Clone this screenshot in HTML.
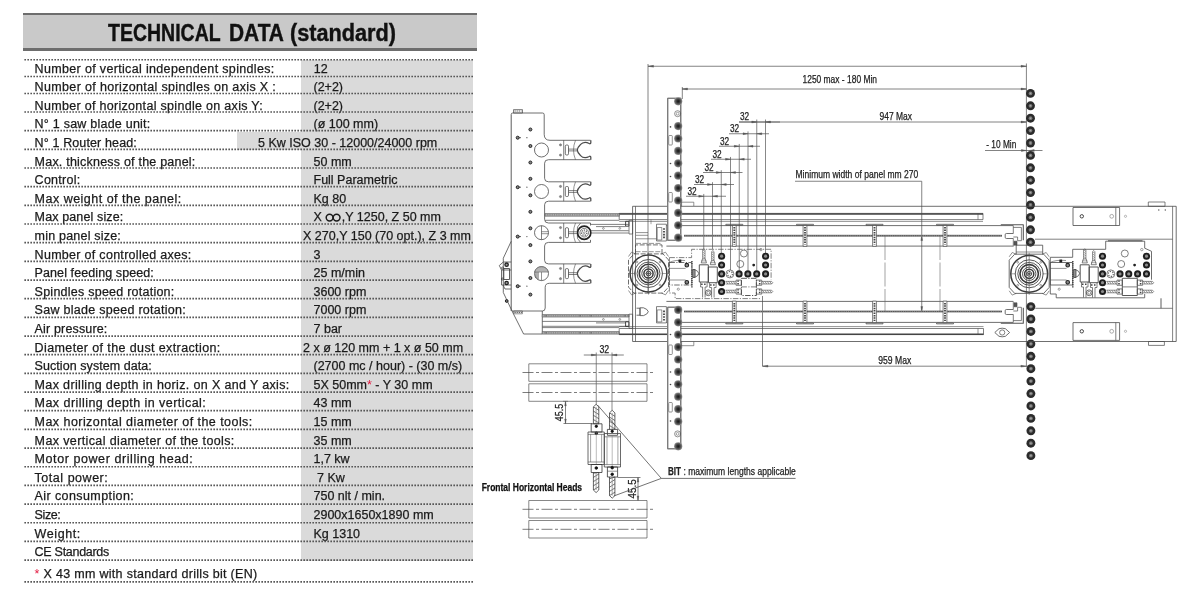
<!DOCTYPE html>
<html><head><meta charset="utf-8"><title>Technical data</title>
<style>
html,body{margin:0;padding:0;background:#fff;}
body{width:1200px;height:600px;position:relative;overflow:hidden;font-family:"Liberation Sans",sans-serif;color:#1a1a1a;}
.hd{position:absolute;left:23px;top:12.5px;width:454px;height:38px;background:#c9c9c9;border-top:2.5px solid #6d6d6d;border-bottom:3px solid #6d6d6d;box-sizing:border-box;}
.ttl{position:absolute;left:108px;top:20.5px;font-size:23px;font-weight:bold;letter-spacing:0;white-space:nowrap;line-height:25px;color:#111;transform-origin:0 0;-webkit-text-stroke:0.4px #111;}
.g{position:absolute;background:#dadada;}
.l,.v{position:absolute;font-size:12.5px;line-height:14px;white-space:nowrap;-webkit-text-stroke:0.25px #1a1a1a;}
.l{left:34.6px;letter-spacing:0.3px;}
.d{position:absolute;left:24.4px;width:448.6px;height:1.6px;background:repeating-linear-gradient(90deg,#585858 0,#585858 1.5px,transparent 1.5px,transparent 3px);}
.red{color:#e3173e;-webkit-text-stroke:0;}
.inf{position:relative;top:0.6px;margin:0 0 0 -0.5px;}
#dr{position:absolute;left:0;top:0;will-change:transform;}
</style></head><body>
<div id="tb" style="position:absolute;left:0;top:0;width:500px;height:600px;will-change:transform">
<div class="hd"></div><div class="ttl" style="left:108.3px;transform:scaleX(0.8475)">TECHNICAL</div><div class="ttl" style="left:228.6px;transform:scaleX(0.909)">DATA</div><div class="ttl" style="left:290.1px;transform:scaleX(0.942)">(standard)</div>
<div class="g" style="left:301px;top:60px;width:172px;height:500.5px"></div>
<div class="g" style="left:237px;top:131.5px;width:70px;height:18px"></div>

<div class="l" style="top:61.60px;letter-spacing:0.338px">Number of vertical independent spindles:</div>
<div class="v" style="left:313.7px;top:61.60px">12</div>
<div class="l" style="top:80.20px;letter-spacing:0.35px">Number of horizontal spindles on axis X :</div>
<div class="v" style="left:313.5px;top:80.20px">(2+2)</div>
<div class="l" style="top:98.81px;letter-spacing:0.306px">Number of horizontal spindle on axis Y:</div>
<div class="v" style="left:313.5px;top:98.81px">(2+2)</div>
<div class="l" style="top:117.41px;letter-spacing:0.231px">N° 1 saw blade unit:</div>
<div class="v" style="left:313.5px;top:117.41px">(ø 100 mm)</div>
<div class="l" style="top:136.02px;letter-spacing:0.125px">N° 1 Router head:</div>
<div class="v" style="left:258px;top:136.02px">5 Kw ISO 30 - 12000/24000 rpm</div>
<div class="l" style="top:154.62px;letter-spacing:0.213px">Max. thickness of the panel:</div>
<div class="v" style="left:313.5px;top:154.62px">50 mm</div>
<div class="l" style="top:173.22px;letter-spacing:0.274px">Control:</div>
<div class="v" style="left:313.5px;top:173.22px">Full Parametric</div>
<div class="l" style="top:191.83px;letter-spacing:0.487px">Max weight of the panel:</div>
<div class="v" style="left:313.5px;top:191.83px">Kg 80</div>
<div class="l" style="top:210.43px;letter-spacing:0.131px">Max panel size:</div>
<div class="v" style="left:313.5px;top:210.43px">X <svg class='inf' width='17' height='9' viewBox='0 0 17 9'><circle cx='4.6' cy='4.6' r='3.4' fill='none' stroke='#1a1a1a' stroke-width='1.5'/><circle cx='11.6' cy='4.6' r='3.4' fill='none' stroke='#1a1a1a' stroke-width='1.5'/></svg>,Y 1250, Z 50 mm</div>
<div class="l" style="top:229.04px;letter-spacing:0.202px">min panel size:</div>
<div class="v" style="left:303px;top:229.04px">X 270,Y 150 (70 opt.), Z 3 mm</div>
<div class="l" style="top:247.64px;letter-spacing:0.292px">Number of controlled axes:</div>
<div class="v" style="left:313.5px;top:247.64px">3</div>
<div class="l" style="top:266.24px;letter-spacing:0.091px">Panel feeding speed:</div>
<div class="v" style="left:313.5px;top:266.24px">25 m/min</div>
<div class="l" style="top:284.85px;letter-spacing:0.242px">Spindles speed rotation:</div>
<div class="v" style="left:313.5px;top:284.85px">3600 rpm</div>
<div class="l" style="top:303.45px;letter-spacing:0.277px">Saw blade speed rotation:</div>
<div class="v" style="left:313.5px;top:303.45px">7000 rpm</div>
<div class="l" style="top:322.06px;letter-spacing:0.153px">Air pressure:</div>
<div class="v" style="left:313.5px;top:322.06px">7 bar</div>
<div class="l" style="top:340.66px;letter-spacing:0.387px">Diameter of the dust extraction:</div>
<div class="v" style="left:303px;top:340.66px">2 x ø 120 mm + 1 x ø 50 mm</div>
<div class="l" style="top:359.26px;letter-spacing:0.062px">Suction system data:</div>
<div class="v" style="left:313.5px;top:359.26px">(2700 mc / hour) - (30 m/s)</div>
<div class="l" style="top:377.87px;letter-spacing:0.351px">Max drilling depth in horiz. on X and Y axis:</div>
<div class="v" style="left:313.5px;top:377.87px">5X 50mm<span class='red'>*</span> - Y 30 mm</div>
<div class="l" style="top:396.47px;letter-spacing:0.449px">Max drilling depth in vertical:</div>
<div class="v" style="left:313.5px;top:396.47px">43 mm</div>
<div class="l" style="top:415.08px;letter-spacing:0.45px">Max horizontal diameter of the tools:</div>
<div class="v" style="left:313.5px;top:415.08px">15 mm</div>
<div class="l" style="top:433.68px;letter-spacing:0.377px">Max vertical diameter of the tools:</div>
<div class="v" style="left:313.5px;top:433.68px">35 mm</div>
<div class="l" style="top:452.28px;letter-spacing:0.575px">Motor power drilling head:</div>
<div class="v" style="left:313.5px;top:452.28px">1,7 kw</div>
<div class="l" style="top:470.89px;letter-spacing:0.527px">Total power:</div>
<div class="v" style="left:317px;top:470.89px">7 Kw</div>
<div class="l" style="top:489.49px;letter-spacing:0.406px">Air consumption:</div>
<div class="v" style="left:313.5px;top:489.49px">750 nlt / min.</div>
<div class="l" style="top:508.10px;letter-spacing:-0.399px">Size:</div>
<div class="v" style="left:313.5px;top:508.10px">2900x1650x1890 mm</div>
<div class="l" style="top:526.70px;letter-spacing:0.591px">Weight:</div>
<div class="v" style="left:313.5px;top:526.70px">Kg 1310</div>
<div class="l" style="top:545.30px;letter-spacing:-0.284px">CE Standards</div>
<div class="l" style="top:566.70px"><span class="red">*</span> X 43 mm with standard drills bit (EN)</div>
<svg style="position:absolute;left:0;top:0" width="500" height="600" viewBox="0 0 500 600"><g stroke="#4f4f4f" stroke-width="1.7" stroke-dasharray="1.55 1.45"><path d="M24.4 59.75H473"/><path d="M24.4 76.50H473"/><path d="M24.4 93.50H473"/><path d="M24.4 112.00H473"/><path d="M24.4 130.67H473"/><path d="M24.4 149.34H473"/><path d="M24.4 168.01H473"/><path d="M24.4 186.68H473"/><path d="M24.4 205.35H473"/><path d="M24.4 224.02H473"/><path d="M24.4 242.69H473"/><path d="M24.4 261.36H473"/><path d="M24.4 280.03H473"/><path d="M24.4 298.70H473"/><path d="M24.4 317.37H473"/><path d="M24.4 336.04H473"/><path d="M24.4 354.71H473"/><path d="M24.4 373.38H473"/><path d="M24.4 392.05H473"/><path d="M24.4 410.72H473"/><path d="M24.4 429.39H473"/><path d="M24.4 448.06H473"/><path d="M24.4 466.73H473"/><path d="M24.4 485.40H473"/><path d="M24.4 504.07H473"/><path d="M24.4 522.74H473"/><path d="M24.4 541.41H473"/><path d="M24.4 560.08H473"/><path d="M24.4 581.90H473"/></g></svg>
</div>
<svg id="dr" width="1200" height="600" viewBox="0 0 1200 600" font-family="Liberation Sans, sans-serif">
<defs>
<radialGradient id="gd"><stop offset="0" stop-color="#151515"/><stop offset="0.35" stop-color="#333"/><stop offset="0.75" stop-color="#666"/><stop offset="1" stop-color="#9a9a9a"/></radialGradient>
<g id="cd"><circle r="4.45" fill="#2b2b2b" stroke="none"/><circle r="1.9" fill="#777" stroke="none"/><circle r="0.8" fill="#aaa" stroke="none"/></g>
<g id="fd"><circle r="4.1" fill="url(#gd)" stroke="none"/></g>
<g id="hd"><circle r="3.55" fill="#1e1e1e" stroke="none"/><circle r="1.6" fill="#8c8c8c" stroke="none"/></g>
</defs>
<g fill="none" stroke="#4a4a4a" stroke-width="0.75" stroke-linecap="butt" stroke-linejoin="round">
<path d="M648.00 66.25L1026.50 66.25" stroke="#5a5a5a"/>
<path d="M648 66.25L653.5 65.35L653.5 67.15Z" fill="#555" stroke="#555" stroke-width="0.4"/>
<path d="M1026.5 66.25L1021.0 65.35L1021.0 67.15Z" fill="#555" stroke="#555" stroke-width="0.4"/>
<path d="M648.00 64.00L648.00 293.00" stroke="#5a5a5a"/>
<path d="M682.00 89.00L1026.50 89.00" stroke="#5a5a5a"/>
<path d="M682 89L687.5 88.1L687.5 89.9Z" fill="#555" stroke="#555" stroke-width="0.4"/>
<path d="M1026.5 89L1021.0 88.1L1021.0 89.9Z" fill="#555" stroke="#555" stroke-width="0.4"/>
<path d="M682.30 87.00L682.30 99.00" stroke="#5a5a5a"/>
<path d="M1026.40 63.50L1026.40 367.00" stroke="#5a5a5a"/>
<text x="802.5" y="83.3" font-size="10.4" text-anchor="start" fill="#222" stroke="#222" stroke-width="0.25" textLength="74.5" lengthAdjust="spacingAndGlyphs">1250 max - 180 Min</text>
<path d="M739.00 122.00L1026.50 122.00" stroke="#5a5a5a"/>
<path d="M1026.5 122L1021.0 121.1L1021.0 122.9Z" fill="#555" stroke="#555" stroke-width="0.4"/>
<text x="879.5" y="119.5" font-size="10.4" text-anchor="start" fill="#222" stroke="#222" stroke-width="0.25" textLength="32.5" lengthAdjust="spacingAndGlyphs">947 Max</text>
<path d="M985.00 150.50L1042.50 150.50" stroke="#5a5a5a"/>
<path d="M1026.4 150.5L1021.4000000000001 149.6L1021.4000000000001 151.4Z" fill="#555" stroke="#555" stroke-width="0.4"/>
<path d="M1029.2 150.5L1034.2 149.6L1034.2 151.4Z" fill="#555" stroke="#555" stroke-width="0.4"/>
<text x="986.3" y="148" font-size="10.4" text-anchor="start" fill="#222" stroke="#222" stroke-width="0.25" textLength="30" lengthAdjust="spacingAndGlyphs">- 10 Min</text>
<text x="795.5" y="177.5" font-size="10.4" text-anchor="start" fill="#222" stroke="#222" stroke-width="0.25" textLength="122.7" lengthAdjust="spacingAndGlyphs">Minimum width of panel mm 270</text>
<path d="M795.00 181.25L921.75 181.25" stroke="#5a5a5a"/>
<path d="M921.75 181.25L921.75 311.50" stroke="#5a5a5a"/>
<path d="M921.75 235.6L920.85 240.6L922.65 240.6Z" fill="#555" stroke="#555" stroke-width="0.4"/>
<path d="M921.75 311.5L920.85 306.5L922.65 306.5Z" fill="#555" stroke="#555" stroke-width="0.4"/>
<path d="M762.50 296.00L762.50 366.20" stroke="#5a5a5a"/>
<path d="M762.50 366.20L1026.40 366.20" stroke="#5a5a5a"/>
<path d="M762.5 366.2L768.0 365.3L768.0 367.09999999999997Z" fill="#555" stroke="#555" stroke-width="0.4"/>
<path d="M1026.4 366.2L1020.9000000000001 365.3L1020.9000000000001 367.09999999999997Z" fill="#555" stroke="#555" stroke-width="0.4"/>
<text x="878.3" y="364" font-size="10.4" text-anchor="start" fill="#222" stroke="#222" stroke-width="0.25" textLength="33" lengthAdjust="spacingAndGlyphs">959 Max</text>
<text x="740" y="119.5" font-size="10.4" text-anchor="start" fill="#222" stroke="#222" stroke-width="0.25" textLength="9.2" lengthAdjust="spacingAndGlyphs">32</text>
<path d="M739.00 122.00L780.00 122.00" stroke="#5a5a5a"/>
<path d="M756.75 122L751.75 121.1L751.75 122.9Z" fill="#555" stroke="#555" stroke-width="0.4"/>
<path d="M765.5 122L770.5 121.1L770.5 122.9Z" fill="#555" stroke="#555" stroke-width="0.4"/>
<text x="730" y="132" font-size="10.4" text-anchor="start" fill="#222" stroke="#222" stroke-width="0.25" textLength="9.2" lengthAdjust="spacingAndGlyphs">32</text>
<path d="M729.00 133.75L769.00 133.75" stroke="#5a5a5a"/>
<path d="M748 133.75L743 132.85L743 134.65Z" fill="#555" stroke="#555" stroke-width="0.4"/>
<path d="M756.75 133.75L761.75 132.85L761.75 134.65Z" fill="#555" stroke="#555" stroke-width="0.4"/>
<text x="720" y="144.5" font-size="10.4" text-anchor="start" fill="#222" stroke="#222" stroke-width="0.25" textLength="9.2" lengthAdjust="spacingAndGlyphs">32</text>
<path d="M719.00 146.25L760.00 146.25" stroke="#5a5a5a"/>
<path d="M739.25 146.25L734.25 145.35L734.25 147.15Z" fill="#555" stroke="#555" stroke-width="0.4"/>
<path d="M748 146.25L753 145.35L753 147.15Z" fill="#555" stroke="#555" stroke-width="0.4"/>
<text x="712.5" y="157.5" font-size="10.4" text-anchor="start" fill="#222" stroke="#222" stroke-width="0.25" textLength="9.2" lengthAdjust="spacingAndGlyphs">32</text>
<path d="M711.00 159.25L751.00 159.25" stroke="#5a5a5a"/>
<path d="M730.5 159.25L725.5 158.35L725.5 160.15Z" fill="#555" stroke="#555" stroke-width="0.4"/>
<path d="M739.25 159.25L744.25 158.35L744.25 160.15Z" fill="#555" stroke="#555" stroke-width="0.4"/>
<text x="704.5" y="170.75" font-size="10.4" text-anchor="start" fill="#222" stroke="#222" stroke-width="0.25" textLength="9.2" lengthAdjust="spacingAndGlyphs">32</text>
<path d="M703.00 172.50L742.50 172.50" stroke="#5a5a5a"/>
<path d="M721.25 172.5L716.25 171.6L716.25 173.4Z" fill="#555" stroke="#555" stroke-width="0.4"/>
<path d="M730.5 172.5L735.5 171.6L735.5 173.4Z" fill="#555" stroke="#555" stroke-width="0.4"/>
<text x="695" y="182.5" font-size="10.4" text-anchor="start" fill="#222" stroke="#222" stroke-width="0.25" textLength="9.2" lengthAdjust="spacingAndGlyphs">32</text>
<path d="M694.00 184.50L734.00 184.50" stroke="#5a5a5a"/>
<path d="M712.5 184.5L707.5 183.6L707.5 185.4Z" fill="#555" stroke="#555" stroke-width="0.4"/>
<path d="M721.25 184.5L726.25 183.6L726.25 185.4Z" fill="#555" stroke="#555" stroke-width="0.4"/>
<text x="687.5" y="194.5" font-size="10.4" text-anchor="start" fill="#222" stroke="#222" stroke-width="0.25" textLength="9.2" lengthAdjust="spacingAndGlyphs">32</text>
<path d="M686.00 196.25L726.00 196.25" stroke="#5a5a5a"/>
<path d="M703.75 196.25L698.75 195.35L698.75 197.15Z" fill="#555" stroke="#555" stroke-width="0.4"/>
<path d="M712.5 196.25L717.5 195.35L717.5 197.15Z" fill="#555" stroke="#555" stroke-width="0.4"/>
<path d="M703.75 193.95L703.75 249.00" stroke-width="0.7" stroke="#555"/>
<path d="M712.50 182.20L712.50 249.00" stroke-width="0.7" stroke="#555"/>
<path d="M721.25 170.20L721.25 253.00" stroke-width="0.7" stroke="#555"/>
<path d="M730.50 156.95L730.50 270.00" stroke-width="0.7" stroke="#555"/>
<path d="M739.25 143.95L739.25 270.50" stroke-width="0.7" stroke="#555"/>
<path d="M748.00 131.45L748.00 270.50" stroke-width="0.7" stroke="#555"/>
<path d="M756.75 119.50L756.75 270.50" stroke-width="0.7" stroke="#555"/>
<path d="M765.50 119.50L765.50 253.00" stroke-width="0.7" stroke="#555"/>
<use href="#cd" x="1030.5" y="93.40"/>
<use href="#cd" x="1030.5" y="105.80"/>
<use href="#cd" x="1030.5" y="118.20"/>
<use href="#cd" x="1030.5" y="130.60"/>
<use href="#cd" x="1030.5" y="143.00"/>
<use href="#cd" x="1030.5" y="155.40"/>
<use href="#cd" x="1030.5" y="167.80"/>
<use href="#cd" x="1030.5" y="180.20"/>
<use href="#cd" x="1030.5" y="192.60"/>
<use href="#cd" x="1030.5" y="205.00"/>
<use href="#cd" x="1030.5" y="217.40"/>
<use href="#cd" x="1030.5" y="229.80"/>
<use href="#cd" x="1030.5" y="242.20"/>
<use href="#cd" x="1030.9" y="306.60"/>
<use href="#cd" x="1030.9" y="319.02"/>
<use href="#cd" x="1030.9" y="331.44"/>
<use href="#cd" x="1030.9" y="343.86"/>
<use href="#cd" x="1030.9" y="356.28"/>
<use href="#cd" x="1030.9" y="368.70"/>
<use href="#cd" x="1030.9" y="381.12"/>
<use href="#cd" x="1030.9" y="393.54"/>
<use href="#cd" x="1030.9" y="405.96"/>
<use href="#cd" x="1030.9" y="418.38"/>
<use href="#cd" x="1030.9" y="430.80"/>
<use href="#cd" x="1030.9" y="443.22"/>
<use href="#cd" x="1030.9" y="455.64"/>
<path d="M632.6 341.5V206.3H1176.2V341.5H632.6" stroke-width="0.8"/>
<path d="M635.50 206.30L635.50 341.50" stroke-width="0.7"/>
<path d="M1172.60 206.30L1172.60 341.50" stroke-width="0.7"/>
<rect x="1148.30" y="202.00" width="16.70" height="4.30" stroke-width="0.7"/>
<rect x="1148.50" y="341.50" width="15.90" height="3.90" stroke-width="0.7"/>
<circle cx="1158.80" cy="210.00" r="0.7" stroke-width="0" fill="#555"/>
<circle cx="1165.30" cy="210.00" r="0.7" stroke-width="0" fill="#555"/>
<path d="M1035.00 239.20L1172.60 239.20" stroke-width="0.7"/>
<path d="M1035.30 308.30L1172.60 308.30" stroke-width="0.7"/>
<path d="M1161.00 298.30L1161.00 308.30" stroke-width="0.9"/>
<rect x="1073.00" y="207.50" width="46.60" height="18.00" stroke-width="0.8"/>
<path d="M1115.80 207.50L1115.80 225.50" stroke-width="0.7"/>
<circle cx="1081.80" cy="216.30" r="1.7" stroke-width="0.9" stroke="#333"/>
<circle cx="1111.70" cy="216.30" r="1.9" stroke-width="0.6" stroke="#777"/>
<circle cx="1125.50" cy="216.30" r="1.1" stroke-width="0.5" stroke="#777"/>
<rect x="1073.00" y="322.60" width="46.60" height="17.80" stroke-width="0.8"/>
<path d="M1115.80 322.60L1115.80 340.40" stroke-width="0.7"/>
<circle cx="1081.80" cy="331.30" r="1.7" stroke-width="0.9" stroke="#333"/>
<circle cx="1111.70" cy="331.30" r="1.9" stroke-width="0.6" stroke="#777"/>
<circle cx="1125.50" cy="331.30" r="1.1" stroke-width="0.5" stroke="#777"/>
<rect x="619.20" y="213.40" width="363.80" height="6.20" stroke-width="0.7"/>
<path d="M619.20 213.90L983.00 213.90" stroke-width="1.5" stroke="#444"/>
<path d="M978.00 213.40L978.00 219.60" stroke-width="0.6"/>
<path d="M619.20 221.40L983.00 221.40" stroke-width="0.6"/>
<rect x="619.20" y="328.50" width="364.30" height="6.10" stroke-width="0.7"/>
<path d="M619.20 334.20L983.50 334.20" stroke-width="1.5" stroke="#444"/>
<path d="M978.00 328.50L978.00 334.60" stroke-width="0.6"/>
<path d="M619.20 326.60L983.50 326.60" stroke-width="0.6"/>
<path d="M994.8 332.5L999 328.7Q1002.2 327.7 1005.4 328.7L1009.6 332.5L1005.4 336.3Q1002.2 337.3 999 336.3Z" stroke-width="0.8"/>
<circle cx="1002.20" cy="332.50" r="2.6" stroke-width="0.7"/>
<path d="M666.4 225.6H1013.3M1013.3 246.1H666.4" stroke-width="0.8"/>
<path d="M684.00 235.70L1002.00 235.70" stroke-width="1.9" stroke="#858585"/>
<path d="M684.00 235.70L1002.00 235.70" stroke-width="0.8" stroke="#4a4a4a" stroke-dasharray="1.3 0.9"/>
<rect x="732.40" y="225.30" width="3.80" height="21.10" stroke-width="0.7" fill="#fff"/>
<path d="M734.30 227.10L734.30 244.60" stroke-width="1.8" stroke="#444" stroke-dasharray="1.5 0.9"/>
<rect x="725.80" y="224.30" width="17.00" height="0.90" stroke-width="0.7" stroke="#4a4a4a"/>
<rect x="803.10" y="225.30" width="3.80" height="21.10" stroke-width="0.7" fill="#fff"/>
<path d="M805.00 227.10L805.00 244.60" stroke-width="1.8" stroke="#444" stroke-dasharray="1.5 0.9"/>
<rect x="796.50" y="224.30" width="17.00" height="0.90" stroke-width="0.7" stroke="#4a4a4a"/>
<rect x="872.60" y="225.30" width="3.80" height="21.10" stroke-width="0.7" fill="#fff"/>
<path d="M874.50 227.10L874.50 244.60" stroke-width="1.8" stroke="#444" stroke-dasharray="1.5 0.9"/>
<rect x="866.00" y="224.30" width="17.00" height="0.90" stroke-width="0.7" stroke="#4a4a4a"/>
<rect x="943.10" y="225.30" width="3.80" height="21.10" stroke-width="0.7" fill="#fff"/>
<path d="M945.00 227.10L945.00 244.60" stroke-width="1.8" stroke="#444" stroke-dasharray="1.5 0.9"/>
<rect x="936.50" y="224.30" width="17.00" height="0.90" stroke-width="0.7" stroke="#4a4a4a"/>
<path d="M1000.8 224.79999999999998H1023.3V240.2" stroke-width="1.1" stroke="#555"/>
<path d="M1013.3 225.6V233.5M1013.3 238.5V246.39999999999998" stroke-width="0.7"/>
<path d="M1013.3 233.5H1006.4Q1005.2 233.5 1005.2 234.7V237.29999999999998Q1005.2 238.5 1006.4 238.5H1013.3" stroke-width="0.8"/>
<path d="M1013.3 227.39999999999998H1021.4V240.7H1017.6V237.0H1013.3" stroke-width="0.7"/>
<path d="M1014 241.2H1017V245.2H1014Z" stroke-width="0.6" fill="#555"/>
<path d="M666.4 301.4H1013.3M1013.3 322.4H666.4" stroke-width="0.8"/>
<path d="M684.00 311.50L1002.00 311.50" stroke-width="1.9" stroke="#858585"/>
<path d="M684.00 311.50L1002.00 311.50" stroke-width="0.8" stroke="#4a4a4a" stroke-dasharray="1.3 0.9"/>
<rect x="732.40" y="301.10" width="3.80" height="21.60" stroke-width="0.7" fill="#fff"/>
<path d="M734.30 302.90L734.30 320.90" stroke-width="1.8" stroke="#444" stroke-dasharray="1.5 0.9"/>
<rect x="725.80" y="323.00" width="17.00" height="0.90" stroke-width="0.7" stroke="#4a4a4a"/>
<rect x="803.10" y="301.10" width="3.80" height="21.60" stroke-width="0.7" fill="#fff"/>
<path d="M805.00 302.90L805.00 320.90" stroke-width="1.8" stroke="#444" stroke-dasharray="1.5 0.9"/>
<rect x="796.50" y="323.00" width="17.00" height="0.90" stroke-width="0.7" stroke="#4a4a4a"/>
<rect x="872.60" y="301.10" width="3.80" height="21.60" stroke-width="0.7" fill="#fff"/>
<path d="M874.50 302.90L874.50 320.90" stroke-width="1.8" stroke="#444" stroke-dasharray="1.5 0.9"/>
<rect x="866.00" y="323.00" width="17.00" height="0.90" stroke-width="0.7" stroke="#4a4a4a"/>
<rect x="943.10" y="301.10" width="3.80" height="21.60" stroke-width="0.7" fill="#fff"/>
<path d="M945.00 302.90L945.00 320.90" stroke-width="1.8" stroke="#444" stroke-dasharray="1.5 0.9"/>
<rect x="936.50" y="323.00" width="17.00" height="0.90" stroke-width="0.7" stroke="#4a4a4a"/>
<path d="M1000.8 323.2H1023.3V307.79999999999995" stroke-width="1.1" stroke="#555"/>
<path d="M1013.3 322.4V314.5M1013.3 309.5V301.6" stroke-width="0.7"/>
<path d="M1013.3 314.5H1006.4Q1005.2 314.5 1005.2 313.29999999999995V310.7Q1005.2 309.5 1006.4 309.5H1013.3" stroke-width="0.8"/>
<path d="M1013.3 320.6H1021.4V307.29999999999995H1017.6V311.0H1013.3" stroke-width="0.7"/>
<path d="M1014 306.79999999999995H1017V302.79999999999995H1014Z" stroke-width="0.6" fill="#555"/>
<path d="M885.00 236.00L885.00 311.00" stroke-width="0.6" stroke="#666" stroke-dasharray="24 2.5"/>
<path d="M940.00 236.00L940.00 311.00" stroke-width="0.6" stroke="#666" stroke-dasharray="24 2.5"/>
<rect x="656.50" y="224.20" width="9.90" height="16.80" stroke-width="0.7"/>
<rect x="657.20" y="227.50" width="4.60" height="12.50" stroke-width="0.6"/>
<path d="M664.00 228.20L664.00 239.00" stroke-width="1.8" stroke="#444" stroke-dasharray="1.6 1.2"/>
<rect x="656.50" y="306.60" width="9.90" height="16.30" stroke-width="0.7"/>
<rect x="657.20" y="309.90" width="4.60" height="12.00" stroke-width="0.6"/>
<path d="M664.00 310.60L664.00 320.90" stroke-width="1.8" stroke="#444" stroke-dasharray="1.6 1.2"/>
<path d="M636.00 232.60L648.00 232.60" stroke-width="0.6"/>
<path d="M636.00 235.30L648.00 235.30" stroke-width="0.6"/>
<path d="M636.00 238.80L656.50 238.80" stroke-width="0.6"/>
<path d="M636.00 243.40L662.00 243.40" stroke-width="0.6" stroke-dasharray="5 1.5"/>
<path d="M651.00 219.60L651.00 224.20" stroke-width="0.5"/>
<path d="M636.5 308.2H640V315.2H636.5M640 307.8H643.5Q647.6 309 648.3 311.7Q647.6 314.4 643.5 315.6H640Z" stroke-width="0.8"/>
<rect x="667.70" y="98.30" width="13.10" height="142.00" fill="#fff"/>
<path d="M680.8 98.3H667.7V240.3H680.8" stroke-width="1.1" stroke="#7a7a7a"/>
<path d="M680.80 98.30L680.80 240.30" stroke-width="0.6"/>
<use href="#fd" x="678.2" y="101.30"/>
<circle cx="677.60" cy="113.70" r="3" stroke-width="0.6"/>
<circle cx="677.60" cy="113.70" r="1.4" stroke-width="0.5"/>
<use href="#fd" x="678.2" y="126.10"/>
<use href="#fd" x="678.2" y="138.50"/>
<use href="#fd" x="678.2" y="150.90"/>
<use href="#fd" x="678.2" y="163.30"/>
<use href="#fd" x="678.2" y="175.70"/>
<use href="#fd" x="678.2" y="188.10"/>
<use href="#fd" x="678.2" y="200.50"/>
<use href="#fd" x="678.2" y="212.90"/>
<use href="#fd" x="678.2" y="225.30"/>
<use href="#fd" x="678.2" y="237.70"/>
<circle cx="670.50" cy="126.90" r="0.8" stroke-width="0" fill="#444"/>
<circle cx="670.50" cy="163.50" r="0.8" stroke-width="0" fill="#444"/>
<circle cx="670.50" cy="176.50" r="0.8" stroke-width="0" fill="#444"/>
<circle cx="670.50" cy="200.00" r="0.8" stroke-width="0" fill="#444"/>
<rect x="668.70" y="135.50" width="3.60" height="9.50" stroke-width="0.6" fill="#fff" rx="0.8"/>
<rect x="668.70" y="192.50" width="3.60" height="9.50" stroke-width="0.6" fill="#fff" rx="0.8"/>
<path d="M681.6 206V202.2H693.8V206" stroke-width="0.6"/>
<rect x="667.70" y="307.20" width="13.10" height="141.60" fill="#fff"/>
<path d="M680.8 307.2H667.7V448.8H680.8" stroke-width="1.1" stroke="#7a7a7a"/>
<path d="M680.80 307.20L680.80 448.80" stroke-width="0.6"/>
<use href="#fd" x="678.2" y="309.90"/>
<use href="#fd" x="678.2" y="322.30"/>
<use href="#fd" x="678.2" y="334.70"/>
<use href="#fd" x="678.2" y="347.10"/>
<use href="#fd" x="678.2" y="359.50"/>
<use href="#fd" x="678.2" y="371.90"/>
<use href="#fd" x="678.2" y="384.30"/>
<use href="#fd" x="678.2" y="396.70"/>
<use href="#fd" x="678.2" y="409.10"/>
<use href="#fd" x="678.2" y="421.50"/>
<circle cx="677.60" cy="433.90" r="3" stroke-width="0.6"/>
<circle cx="677.60" cy="433.90" r="1.4" stroke-width="0.5"/>
<use href="#fd" x="678.2" y="446.30"/>
<circle cx="670.50" cy="334.50" r="0.8" stroke-width="0" fill="#444"/>
<circle cx="670.50" cy="372.00" r="0.8" stroke-width="0" fill="#444"/>
<circle cx="670.50" cy="384.50" r="0.8" stroke-width="0" fill="#444"/>
<circle cx="670.50" cy="421.00" r="0.8" stroke-width="0" fill="#444"/>
<rect x="668.70" y="345.00" width="3.60" height="9.50" stroke-width="0.6" fill="#fff" rx="0.8"/>
<rect x="668.70" y="402.50" width="3.60" height="9.50" stroke-width="0.6" fill="#fff" rx="0.8"/>
<path d="M681.6 341.6V345.7H693.8V341.6" stroke-width="0.6"/>
<path d="M511.2 114.5Q511.2 113 512.7 113H542.5Q544.2 113 544.2 114.7V134.3Q544.2 140.3 550 140.3H590.5" stroke-width="0.8"/>
<path d="M590.5 159.7H548.5Q544.6 159.7 544.6 163.2V178.3Q544.6 181.8 548.5 181.8H590.5" stroke-width="0.8"/>
<path d="M563.70 140.30L563.70 159.70" stroke-width="0.7"/>
<circle cx="560.50" cy="144.90" r="1.1" stroke-width="0.5" stroke="#666" fill="#888"/>
<circle cx="560.50" cy="155.10" r="1.1" stroke-width="0.5" stroke="#666" fill="#888"/>
<rect x="565.30" y="145.00" width="3.20" height="10.00" stroke-width="0.8" rx="1.2"/>
<path d="M568.5 149.1H577.5M568.5 150.9H577.5" stroke-width="0.7"/>
<path d="M590.8 140.3V143.1Q590.3 144.2 589.2 143.5C586 141.7 582.5 142.3 580.3 144.7Q577.4 147.5 577.3 150Q577.4 152.5 580.3 155.3C582.5 157.7 586 158.3 589.2 156.5Q590.3 155.8 590.8 156.9V159.7" stroke-width="1.25" stroke="#4a4a4a"/>
<path d="M575.5 140.3Q571.5 150 575.5 159.7" stroke-width="0.6"/>
<circle cx="541.50" cy="150.00" r="7" stroke-width="0.8"/>
<path d="M590.5 201.2H548.5Q544.6 201.2 544.6 204.7V219.5Q544.6 223.0 548.5 223.0H590.5" stroke-width="0.8"/>
<path d="M563.70 181.80L563.70 201.20" stroke-width="0.7"/>
<circle cx="560.50" cy="186.40" r="1.1" stroke-width="0.5" stroke="#666" fill="#888"/>
<circle cx="560.50" cy="196.60" r="1.1" stroke-width="0.5" stroke="#666" fill="#888"/>
<rect x="565.30" y="186.50" width="3.20" height="10.00" stroke-width="0.8" rx="1.2"/>
<path d="M568.5 190.6H577.5M568.5 192.4H577.5" stroke-width="0.7"/>
<path d="M590.8 181.8V184.6Q590.3 185.7 589.2 185.0C586 183.2 582.5 183.8 580.3 186.2Q577.4 189.0 577.3 191.5Q577.4 194.0 580.3 196.8C582.5 199.2 586 199.8 589.2 198.0Q590.3 197.3 590.8 198.4V201.2" stroke-width="1.25" stroke="#4a4a4a"/>
<path d="M575.5 181.8Q571.5 191.5 575.5 201.2" stroke-width="0.6"/>
<circle cx="541.50" cy="191.50" r="7" stroke-width="0.8"/>
<path d="M590.5 242.39999999999998H548.5Q544.6 242.39999999999998 544.6 245.89999999999998V260.40000000000003Q544.6 263.90000000000003 548.5 263.90000000000003H590.5" stroke-width="0.8"/>
<path d="M563.70 223.00L563.70 242.40" stroke-width="0.7"/>
<circle cx="560.50" cy="227.60" r="1.1" stroke-width="0.5" stroke="#666" fill="#888"/>
<circle cx="560.50" cy="237.80" r="1.1" stroke-width="0.5" stroke="#666" fill="#888"/>
<rect x="565.30" y="227.70" width="3.20" height="10.00" stroke-width="0.8" rx="1.2"/>
<path d="M568.5 231.79999999999998H577.5M568.5 233.6H577.5" stroke-width="0.7"/>
<path d="M580.6 223.0Q576 226.7 577.3 231.7M580.6 242.39999999999998Q576 238.7 577.3 233.7" stroke-width="0.7"/>
<path d="M590.5 223.0V225.5M590.5 242.39999999999998V239.89999999999998" stroke-width="0.8"/>
<path d="M575.5 223.0Q571.5 232.7 575.5 242.39999999999998" stroke-width="0.6"/>
<circle cx="584.20" cy="232.70" r="6.6" stroke-width="1.7" stroke="#222" fill="#fff"/>
<circle cx="584.20" cy="232.70" r="4.3" stroke-width="0.7"/>
<circle cx="584.20" cy="232.70" r="2.6" stroke-width="1.3" stroke="#555" stroke-dasharray="1.2 1.1"/>
<circle cx="584.20" cy="232.70" r="0.9" stroke-width="0.5"/>
<circle cx="541.50" cy="232.70" r="7" stroke-width="0.8"/>
<path d="M590.5 283.3H549.5Q545.2 283.3 545.2 287.3V308Q545.2 311 542.3 311H512" stroke-width="0.8"/>
<path d="M563.70 263.90L563.70 283.30" stroke-width="0.7"/>
<circle cx="560.50" cy="268.50" r="1.1" stroke-width="0.5" stroke="#666" fill="#888"/>
<circle cx="560.50" cy="278.70" r="1.1" stroke-width="0.5" stroke="#666" fill="#888"/>
<rect x="565.30" y="268.60" width="3.20" height="10.00" stroke-width="0.8" rx="1.2"/>
<path d="M568.5 272.70000000000005H577.5M568.5 274.5H577.5" stroke-width="0.7"/>
<path d="M590.8 263.90000000000003V266.70000000000005Q590.3 267.8 589.2 267.1C586 265.3 582.5 265.90000000000003 580.3 268.3Q577.4 271.1 577.3 273.6Q577.4 276.1 580.3 278.90000000000003C582.5 281.3 586 281.90000000000003 589.2 280.1Q590.3 279.40000000000003 590.8 280.5V283.3" stroke-width="1.25" stroke="#4a4a4a"/>
<path d="M575.5 263.90000000000003Q571.5 273.6 575.5 283.3" stroke-width="0.6"/>
<circle cx="541.50" cy="273.60" r="7" stroke-width="0.8"/>
<path d="M541.50 225.70L541.50 239.70" stroke-width="0.7"/>
<path d="M541.5 231.7H548.4M541.5 233.7H548.4" stroke-width="0.6"/>
<path d="M534.7 272.1A7 7 0 0 1 548.3 272.1Z" stroke-width="0.5" fill="#b5b5b5"/>
<path d="M536 272.1V278.1M538 272.1V279.6" stroke-width="0.8" stroke="#333"/>
<path d="M541.5 272.1V280.6" stroke-width="0.6"/>
<path d="M511.2 114.5V311" stroke-width="0.9"/>
<rect x="513.50" y="109.60" width="9.00" height="3.40" stroke-width="0.7"/>
<path d="M514.5 111H521.5" stroke-width="1.2" stroke="#555" stroke-dasharray="1.2 0.9"/>
<circle cx="530.40" cy="129.50" r="1.5" stroke-width="1.0" stroke="#222" fill="#888"/>
<circle cx="530.40" cy="146.00" r="1.5" stroke-width="1.0" stroke="#222" fill="#888"/>
<circle cx="530.40" cy="162.50" r="1.5" stroke-width="1.0" stroke="#222" fill="#888"/>
<circle cx="530.40" cy="178.80" r="1.5" stroke-width="1.0" stroke="#222" fill="#888"/>
<circle cx="530.40" cy="195.30" r="1.5" stroke-width="1.0" stroke="#222" fill="#888"/>
<circle cx="530.40" cy="211.80" r="1.5" stroke-width="1.0" stroke="#222" fill="#888"/>
<circle cx="530.40" cy="228.30" r="1.5" stroke-width="1.0" stroke="#222" fill="#888"/>
<circle cx="530.40" cy="245.10" r="1.5" stroke-width="1.0" stroke="#222" fill="#888"/>
<circle cx="530.40" cy="261.40" r="1.5" stroke-width="1.0" stroke="#222" fill="#888"/>
<circle cx="530.40" cy="278.00" r="1.5" stroke-width="1.0" stroke="#222" fill="#888"/>
<circle cx="530.40" cy="294.60" r="1.5" stroke-width="1.0" stroke="#222" fill="#888"/>
<circle cx="517.70" cy="137.70" r="1.5" stroke-width="1.0" stroke="#222" fill="#888"/>
<path d="M519.00 137.70L521.00 137.70" stroke-width="0.8" stroke="#333"/>
<circle cx="526.90" cy="137.70" r="0.6" stroke-width="0" fill="#444"/>
<circle cx="517.70" cy="187.20" r="1.5" stroke-width="1.0" stroke="#222" fill="#888"/>
<path d="M519.00 187.20L521.00 187.20" stroke-width="0.8" stroke="#333"/>
<circle cx="526.90" cy="187.20" r="0.6" stroke-width="0" fill="#444"/>
<circle cx="517.70" cy="236.60" r="1.5" stroke-width="1.0" stroke="#222" fill="#888"/>
<path d="M519.00 236.60L521.00 236.60" stroke-width="0.8" stroke="#333"/>
<circle cx="526.90" cy="236.60" r="0.6" stroke-width="0" fill="#444"/>
<circle cx="517.70" cy="286.20" r="1.5" stroke-width="1.0" stroke="#222" fill="#888"/>
<path d="M519.00 286.20L521.00 286.20" stroke-width="0.8" stroke="#333"/>
<circle cx="526.90" cy="286.20" r="0.6" stroke-width="0" fill="#444"/>
<path d="M511.2 241.3L503.3 258.2V292.5L512 311" stroke-width="0.8"/>
<path d="M503.3 262L499.3 265.5L501.5 270V285H511.2M503.3 262H511.2M501.5 270H511.2M503 285L505 289H511.2" stroke-width="0.8"/>
<circle cx="506.60" cy="264.70" r="1.7" stroke-width="1.3" stroke="#222" fill="#999"/>
<circle cx="506.60" cy="283.00" r="1.7" stroke-width="1.3" stroke="#222" fill="#999"/>
<circle cx="506.70" cy="301.00" r="1.4" stroke-width="1.0" stroke="#222" fill="#777"/>
<rect x="503.80" y="268.50" width="5.70" height="11.00" stroke-width="0.8" stroke="#333"/>
<circle cx="502.50" cy="268.00" r="1.0" stroke-width="0.7" stroke="#333"/>
<circle cx="502.30" cy="279.00" r="1.0" stroke-width="0.7" stroke="#333"/>
<path d="M512 311L523.6 334H542.3V311" stroke-width="0.8"/>
<rect x="513.70" y="311.00" width="8.70" height="2.80" stroke-width="0.6"/>
<path d="M514.5 312.5H521.8" stroke-width="1.1" stroke="#555" stroke-dasharray="1.2 0.9"/>
<rect x="545.00" y="213.60" width="74.20" height="2.60" stroke-width="0.6" fill="#bdbdbd"/>
<path d="M545.00 214.90L619.20 214.90" stroke-width="1.8199999999999958" stroke="#8a8a8a" stroke-dasharray="1 0.8"/>
<path d="M545 220.3H619.2" stroke-width="0.7"/>
<path d="M590.8 224.4H628.7M596 226.6H625.6M590.8 230.7H628.7M590.8 233H628.7" stroke-width="0.7"/>
<rect x="625.60" y="221.30" width="3.30" height="4.90" stroke-width="0.9" stroke="#333"/>
<circle cx="603.40" cy="228.40" r="0.9" stroke-width="0.5"/>
<circle cx="619.80" cy="228.40" r="0.9" stroke-width="0.5"/>
<rect x="629.00" y="220.30" width="3.60" height="13.70" stroke-width="0.7"/>
<rect x="542.30" y="314.60" width="86.70" height="2.40" stroke-width="0.6" fill="#bdbdbd"/>
<path d="M542.30 315.80L629.00 315.80" stroke-width="1.679999999999984" stroke="#8a8a8a" stroke-dasharray="1 0.8"/>
<circle cx="546.00" cy="315.80" r="0.6" stroke-width="0" fill="#444"/>
<circle cx="580.00" cy="315.80" r="0.6" stroke-width="0" fill="#444"/>
<circle cx="591.00" cy="315.80" r="0.6" stroke-width="0" fill="#444"/>
<circle cx="625.00" cy="315.80" r="0.6" stroke-width="0" fill="#444"/>
<path d="M542.3 321.4H629M596 322.9H625.6M542.3 326.3H629M542.3 327.6H619.2" stroke-width="0.7"/>
<rect x="542.30" y="331.60" width="76.90" height="2.50" stroke-width="0.6" fill="#bdbdbd"/>
<path d="M542.30 332.85L619.20 332.85" stroke-width="1.75" stroke="#8a8a8a" stroke-dasharray="1 0.8"/>
<circle cx="546.00" cy="332.80" r="0.6" stroke-width="0" fill="#444"/>
<circle cx="580.00" cy="332.80" r="0.6" stroke-width="0" fill="#444"/>
<circle cx="591.00" cy="332.80" r="0.6" stroke-width="0" fill="#444"/>
<rect x="625.60" y="321.80" width="3.30" height="4.60" stroke-width="0.9" stroke="#333"/>
<circle cx="603.40" cy="319.40" r="0.9" stroke-width="0.5"/>
<circle cx="619.80" cy="319.40" r="0.9" stroke-width="0.5"/>
<rect x="629.00" y="314.20" width="3.60" height="14.10" stroke-width="0.7"/>
<rect x="528.80" y="363.80" width="118.20" height="17.50" stroke-width="0.7" stroke="#555"/>
<path d="M522.50 372.50L653.80 372.50" stroke-width="0.7" stroke="#444" stroke-dasharray="11 2.5 3 2.5"/>
<rect x="528.80" y="383.80" width="118.20" height="17.50" stroke-width="0.7" stroke="#555"/>
<path d="M522.50 392.50L653.80 392.50" stroke-width="0.7" stroke="#444" stroke-dasharray="11 2.5 3 2.5"/>
<rect x="528.80" y="500.50" width="118.20" height="17.50" stroke-width="0.7" stroke="#555"/>
<path d="M522.50 509.30L653.80 509.30" stroke-width="0.7" stroke="#444" stroke-dasharray="11 2.5 3 2.5"/>
<rect x="528.80" y="520.50" width="118.20" height="17.50" stroke-width="0.7" stroke="#555"/>
<path d="M522.50 529.30L653.80 529.30" stroke-width="0.7" stroke="#444" stroke-dasharray="11 2.5 3 2.5"/>
<text x="599.4" y="353.2" font-size="10.4" text-anchor="start" fill="#222" stroke="#222" stroke-width="0.25" textLength="9.8" lengthAdjust="spacingAndGlyphs">32</text>
<path d="M583.80 355.00L623.80 355.00" stroke="#5a5a5a"/>
<path d="M596.25 355L591.25 354.1L591.25 355.9Z" fill="#555" stroke="#555" stroke-width="0.4"/>
<path d="M612 355L617 354.1L617 355.9Z" fill="#555" stroke="#555" stroke-width="0.4"/>
<path d="M596.25 352.50L596.25 404.50" stroke-width="0.7" stroke="#5a5a5a"/>
<path d="M612.00 352.50L612.00 410.50" stroke-width="0.7" stroke="#5a5a5a"/>
<path d="M565.50 401.30L565.50 423.50" stroke="#5a5a5a"/>
<path d="M563.00 401.30L568.00 401.30" stroke-width="0.6" stroke="#5a5a5a"/>
<path d="M563.50 423.50L592.00 423.50" stroke="#5a5a5a"/>
<path d="M565.5 401.3L564.7 405.8L566.3 405.8Z" fill="#555" stroke="#555" stroke-width="0.4"/>
<path d="M565.5 423.5L564.7 419.0L566.3 419.0Z" fill="#555" stroke="#555" stroke-width="0.4"/>
<text x="563.2" y="421.2" font-size="10.8" text-anchor="start" fill="#222" stroke="#222" stroke-width="0.25" textLength="17.5" lengthAdjust="spacingAndGlyphs" transform="rotate(-90 563.2 421.2)">45.5</text>
<path d="M638.00 477.50L638.00 500.50" stroke="#5a5a5a"/>
<path d="M617.50 477.50L640.50 477.50" stroke="#5a5a5a"/>
<path d="M638 477.5L637.2 482.0L638.8 482.0Z" fill="#555" stroke="#555" stroke-width="0.4"/>
<path d="M638 500.5L637.2 496.0L638.8 496.0Z" fill="#555" stroke="#555" stroke-width="0.4"/>
<text x="635.9" y="498.4" font-size="10.8" text-anchor="start" fill="#222" stroke="#222" stroke-width="0.25" textLength="19.2" lengthAdjust="spacingAndGlyphs" transform="rotate(-90 635.9 498.4)">45.5</text>
<path d="M593.4 406.90000000000003L596.1 404.3L598.8000000000001 406.90000000000003V423.8M593.4 406.90000000000003V423.8" stroke-width="0.75" stroke="#333"/>
<path d="M593.4 406.90L598.8000000000001 410.30M593.4 411.10L598.8000000000001 414.50M593.4 415.30L598.8000000000001 418.70M593.4 419.50L598.8000000000001 422.90M593.4 423.70L598.8000000000001 423.80" stroke-width="0.7" stroke="#333"/>
<path d="M596.10 406.90L596.10 423.80" stroke-width="0.9" stroke="#999"/>
<path d="M593.4 490.0L596.1 492.6L598.8000000000001 490.0V472.5M593.4 490.0V472.5" stroke-width="0.75" stroke="#333"/>
<path d="M593.4 490.00L598.8000000000001 486.60M593.4 485.80L598.8000000000001 482.40M593.4 481.60L598.8000000000001 478.20M593.4 477.40L598.8000000000001 474.00M593.4 473.20L598.8000000000001 472.50" stroke-width="0.7" stroke="#333"/>
<path d="M596.10 490.00L596.10 472.50" stroke-width="0.9" stroke="#999"/>
<path d="M609.5 412.90000000000003L612.2 410.3L614.9000000000001 412.90000000000003V429.4M609.5 412.90000000000003V429.4" stroke-width="0.75" stroke="#333"/>
<path d="M609.5 412.90L614.9000000000001 416.30M609.5 417.10L614.9000000000001 420.50M609.5 421.30L614.9000000000001 424.70M609.5 425.50L614.9000000000001 428.90" stroke-width="0.7" stroke="#333"/>
<path d="M612.20 412.90L612.20 429.40" stroke-width="0.9" stroke="#999"/>
<path d="M609.5 495.59999999999997L612.2 498.2L614.9000000000001 495.59999999999997V477M609.5 495.59999999999997V477" stroke-width="0.75" stroke="#333"/>
<path d="M609.5 495.60L614.9000000000001 492.20M609.5 491.40L614.9000000000001 488.00M609.5 487.20L614.9000000000001 483.80M609.5 483.00L614.9000000000001 479.60M609.5 478.80L614.9000000000001 477.00" stroke-width="0.7" stroke="#333"/>
<path d="M612.20 495.60L612.20 477.00" stroke-width="0.9" stroke="#999"/>
<rect x="591.20" y="423.80" width="10.80" height="8.20" stroke-width="0.8" stroke="#333"/>
<circle cx="596.30" cy="426.30" r="1.2" stroke-width="0.8" stroke="#111" fill="#111"/>
<circle cx="596.30" cy="433.20" r="1.3" stroke-width="0.8" stroke="#111" fill="#111"/>
<rect x="588.00" y="432.00" width="16.30" height="32.50" stroke-width="0.8" stroke="#444"/>
<path d="M590.60 434.40L590.60 462.00" stroke-width="0.5"/>
<path d="M601.60 434.40L601.60 462.00" stroke-width="0.5"/>
<path d="M588.00 434.40L604.30 434.40" stroke-width="0.6"/>
<path d="M588.00 462.00L604.30 462.00" stroke-width="0.6"/>
<path d="M596.30 432.00L596.30 464.50" stroke-width="0.5" stroke="#777"/>
<rect x="591.20" y="464.50" width="10.80" height="8.00" stroke-width="0.8" stroke="#333"/>
<circle cx="596.30" cy="468.00" r="1.3" stroke-width="0.8" stroke="#111" fill="#111"/>
<rect x="607.40" y="429.40" width="10.20" height="5.90" stroke-width="0.8" stroke="#333"/>
<circle cx="612.20" cy="431.30" r="1.2" stroke-width="0.8" stroke="#111" fill="#111"/>
<rect x="604.30" y="433.50" width="16.20" height="33.50" stroke-width="0.8" stroke="#444"/>
<path d="M607.00 436.80L607.00 464.60" stroke-width="0.5"/>
<path d="M617.90 436.80L617.90 464.60" stroke-width="0.5"/>
<path d="M604.30 436.80L620.50 436.80" stroke-width="0.6"/>
<path d="M604.30 464.60L620.50 464.60" stroke-width="0.6"/>
<path d="M612.20 435.00L612.20 467.00" stroke-width="0.5" stroke="#777"/>
<rect x="607.40" y="467.00" width="10.20" height="10.00" stroke-width="0.8" stroke="#333"/>
<circle cx="612.20" cy="467.70" r="1.3" stroke-width="0.8" stroke="#111" fill="#111"/>
<circle cx="612.20" cy="474.30" r="1.3" stroke-width="0.8" stroke="#111" fill="#111"/>
<path d="M607.40 471.20L617.60 471.20" stroke-width="0.6"/>
<path d="M597.5 405L661.3 478.4H795.6M661.3 478.4L613.8 496" stroke-width="0.75" stroke="#444"/>
<text x="668" y="475.2" font-size="10.2" text-anchor="start" fill="#222" stroke="#222" stroke-width="0.25" textLength="13" lengthAdjust="spacingAndGlyphs" font-weight="bold">BIT</text>
<text x="683.5" y="475.2" font-size="10.2" text-anchor="start" fill="#222" stroke="#222" stroke-width="0.25" textLength="112.3" lengthAdjust="spacingAndGlyphs">: maximum lengths applicable</text>
<text x="481.7" y="490.7" font-size="10" text-anchor="start" fill="#111" stroke="#111" stroke-width="0.25" textLength="100.4" lengthAdjust="spacingAndGlyphs" font-weight="bold">Frontal Horizontal Heads</text>
<path d="M634.0 253.9H663.0L668.5 259.9V287.1L663.0 293.1H634.0L628.5 287.1V259.9Z" stroke-width="0.8" stroke-dasharray="5 1.6"/>
<circle cx="648.50" cy="273.50" r="18.4" stroke-width="1.5" stroke="#3a3a3a"/>
<circle cx="648.50" cy="273.50" r="14.0" stroke-width="0.9" stroke="#444"/>
<circle cx="648.50" cy="273.50" r="11.4" stroke-width="0.9" stroke="#444"/>
<circle cx="648.50" cy="273.50" r="9.2" stroke-width="1.6" stroke="#383838"/>
<circle cx="648.50" cy="273.50" r="6.7" stroke-width="0.9" stroke="#444"/>
<circle cx="648.50" cy="273.50" r="4.6" stroke-width="1.5" stroke="#383838"/>
<circle cx="648.50" cy="273.50" r="2.4" stroke-width="0.9" stroke="#333"/>
<circle cx="648.50" cy="273.50" r="1.2" stroke-width="0" fill="#555"/>
<path d="M645.50 273.50L651.50 273.50" stroke-width="0.6"/>
<path d="M648.50 252.50L648.50 294.50" stroke-width="0.6" stroke="#555"/>
<path d="M629.50 273.50L635.50 273.50" stroke-width="0.5"/>
<path d="M661.50 273.50L667.50 273.50" stroke-width="0.5"/>
<circle cx="660.03" cy="285.03" r="0.9" stroke-width="0.5"/>
<circle cx="636.97" cy="285.03" r="0.9" stroke-width="0.5"/>
<circle cx="636.97" cy="261.97" r="0.9" stroke-width="0.5"/>
<circle cx="660.03" cy="261.97" r="0.9" stroke-width="0.5"/>
<path d="M635.5 253.9L631.5 252.2L628.5 256.5" stroke-width="0.6"/>
<path d="M635.5 293.1L631.5 294.8L628.5 290.5" stroke-width="0.6"/>
<path d="M661.5 253.9L665.5 252.2L668.5 256.5" stroke-width="0.6"/>
<path d="M661.5 293.1L665.5 294.8L668.5 290.5" stroke-width="0.6"/>
<path d="M635.5 253.9V244.9H662.0V253.9" stroke-width="0.8" stroke-dasharray="5 1.6"/>
<path d="M635.50 251.70L662.00 251.70" stroke-width="0.6" stroke-dasharray="5 1.6"/>
<path d="M1014.7 254.20000000000002H1043.7L1049.2 260.20000000000005V287.40000000000003L1043.7 293.40000000000003H1014.7L1009.2 287.40000000000003V260.20000000000005Z" stroke-width="0.8"/>
<circle cx="1029.20" cy="273.80" r="18.4" stroke-width="1.5" stroke="#3a3a3a"/>
<circle cx="1029.20" cy="273.80" r="14.0" stroke-width="0.9" stroke="#444"/>
<circle cx="1029.20" cy="273.80" r="11.4" stroke-width="0.9" stroke="#444"/>
<circle cx="1029.20" cy="273.80" r="9.2" stroke-width="1.6" stroke="#383838"/>
<circle cx="1029.20" cy="273.80" r="6.7" stroke-width="0.9" stroke="#444"/>
<circle cx="1029.20" cy="273.80" r="4.6" stroke-width="1.5" stroke="#383838"/>
<circle cx="1029.20" cy="273.80" r="2.4" stroke-width="0.9" stroke="#333"/>
<circle cx="1029.20" cy="273.80" r="1.2" stroke-width="0" fill="#555"/>
<path d="M1026.20 273.80L1032.20 273.80" stroke-width="0.6"/>
<path d="M1029.20 252.80L1029.20 294.80" stroke-width="0.6" stroke="#555"/>
<path d="M1010.20 273.80L1016.20 273.80" stroke-width="0.5"/>
<path d="M1042.20 273.80L1048.20 273.80" stroke-width="0.5"/>
<circle cx="1040.73" cy="285.33" r="0.9" stroke-width="0.5"/>
<circle cx="1017.67" cy="285.33" r="0.9" stroke-width="0.5"/>
<circle cx="1017.67" cy="262.27" r="0.9" stroke-width="0.5"/>
<circle cx="1040.73" cy="262.27" r="0.9" stroke-width="0.5"/>
<path d="M1016.2 254.2L1012.2 252.5L1009.2 256.8" stroke-width="0.6"/>
<path d="M1016.2 293.4L1012.2 295.1L1009.2 290.8" stroke-width="0.6"/>
<path d="M1042.2 254.2L1046.2 252.5L1049.2 256.8" stroke-width="0.6"/>
<path d="M1042.2 293.4L1046.2 295.1L1049.2 290.8" stroke-width="0.6"/>
<path d="M1016.2 254.20000000000002V245.20000000000002H1042.7V254.20000000000002" stroke-width="0.8"/>
<path d="M1016.20 252.00L1042.70 252.00" stroke-width="0.6"/>
<path d="M669.4 257.6H691.6V249.3H771.1V279.5M669.4 257.6V293H675.1V298.6H760.1" stroke-width="0.75" stroke="#5a5a5a" stroke-dasharray="5.5 1.4 1.2 1.4"/>
<rect x="669.40" y="262.50" width="22.40" height="22.50" stroke-width="0.8" stroke-dasharray="5.5 1.4 1.2 1.4"/>
<path d="M669.40 268.40L685.60 268.40" stroke-width="0.6"/>
<path d="M669.40 280.00L685.60 280.00" stroke-width="0.6"/>
<path d="M669.4 262.5Q675.1 259.5 685.1 260.5" stroke-width="0.6"/>
<circle cx="686.80" cy="265.20" r="1.8" stroke-width="1.1" stroke="#222" fill="#888"/>
<circle cx="686.80" cy="282.30" r="1.8" stroke-width="1.1" stroke="#222" fill="#888"/>
<rect x="678.70" y="259.80" width="2.40" height="2.40" stroke-width="0.4" stroke="#222" fill="#222"/>
<circle cx="678.30" cy="289.20" r="1.1" stroke-width="0.5"/>
<path d="M691.90 261.00L691.90 287.50" stroke-width="1.5" stroke="#444" stroke-dasharray="1.3 0.8"/>
<path d="M692.6 269.8H695.1Q698.4 271 698.6999999999999 273.4Q698.4 276 695.1 277.2H692.6" stroke-width="0.8"/>
<rect x="692.70" y="269.60" width="2.40" height="7.80" stroke-width="0.7" stroke="#333" fill="#999"/>
<path d="M702.65 249.89999999999998L703.85 248.7L705.05 249.89999999999998M702.65 249.89999999999998V258.9M705.05 249.89999999999998V258.9" stroke-width="0.6"/>
<path d="M702.65 249.90L705.05 251.50 M702.65 252.10L705.05 253.70 M702.65 254.30L705.05 255.90 M702.65 256.50L705.05 258.10" stroke-width="0.5"/>
<path d="M702.45 258.9L701.25 262.9H706.45L705.25 258.9Z" stroke-width="0.7"/>
<path d="M701.25 260.9H706.45" stroke-width="0.5"/>
<path d="M711.65 251.7L712.85 250.5L714.05 251.7M711.65 251.7V260.7M714.05 251.7V260.7" stroke-width="0.6"/>
<path d="M711.65 251.70L714.05 253.30 M711.65 253.90L714.05 255.50 M711.65 256.10L714.05 257.70 M711.65 258.30L714.05 259.90" stroke-width="0.5"/>
<path d="M711.45 260.7L710.25 264.7H715.45L714.25 260.7Z" stroke-width="0.7"/>
<path d="M710.25 262.7H715.45" stroke-width="0.5"/>
<rect x="699.30" y="264.80" width="9.00" height="17.20" stroke-width="0.9" stroke="#444"/>
<rect x="708.30" y="267.00" width="9.00" height="15.70" stroke-width="0.9" stroke="#444"/>
<path d="M700.6 282V287H702.6V297.5M707.1 282V287H705.1V297.5M709.6 282.7V287.5H711.6V297.5M716.1 282.7V287.5H714.1V297.5" stroke-width="0.7"/>
<path d="M701.1 284.3H706.6M710.1 285H715.6" stroke-width="1.4" stroke="#444" stroke-dasharray="1.5 1.5"/>
<circle cx="708.30" cy="292.80" r="2.9" stroke-width="0.8"/>
<circle cx="708.30" cy="292.80" r="1.5" stroke-width="0.6"/>
<use href="#hd" x="721.60" y="256.2"/>
<use href="#hd" x="721.60" y="265"/>
<use href="#hd" x="721.60" y="273.9"/>
<use href="#hd" x="721.60" y="282.7"/>
<use href="#hd" x="721.60" y="291.5"/>
<use href="#hd" x="739.10" y="273.9"/>
<use href="#hd" x="747.85" y="273.9"/>
<use href="#hd" x="756.70" y="273.9"/>
<use href="#hd" x="765.60" y="273.9"/>
<use href="#hd" x="765.60" y="256.2"/>
<use href="#hd" x="765.60" y="265"/>
<circle cx="743.90" cy="253.50" r="3.5" stroke-width="0.7"/>
<circle cx="740.30" cy="264.00" r="3.5" stroke-width="0.7"/>
<circle cx="729.90" cy="273.90" r="4" stroke-width="0.7"/>
<circle cx="729.90" cy="273.90" r="2.5" stroke-width="1.2" stroke="#666" stroke-dasharray="1.3 1.3"/>
<circle cx="753.70" cy="265.10" r="1.4" stroke-width="0" fill="#222"/>
<circle cx="760.90" cy="249.60" r="1.2" stroke-width="0.5"/>
<rect x="741.40" y="278.30" width="15.00" height="17.20" stroke-width="0.9" stroke="#444" stroke-dasharray="5.5 1.4 1.2 1.4"/>
<path d="M741.40 286.90L756.40 286.90" stroke-width="0.7" stroke-dasharray="5.5 1.4 1.2 1.4"/>
<path d="M725.6 281.4H736.1M725.6 284.0H736.1" stroke-width="0.6"/>
<path d="M726.10 281.4L727.90 284.0 M728.50 281.4L730.30 284.0 M730.90 281.4L732.70 284.0 M733.30 281.4L735.10 284.0" stroke-width="0.6"/>
<path d="M736.1 280.09999999999997H741.4V285.3H736.1Z" stroke-width="0.7"/>
<path d="M738.1 280.4V285.0" stroke-width="1.6" stroke="#444" stroke-dasharray="1.4 1.2"/>
<path d="M756.4 280.09999999999997H761.6999999999999V285.3H756.4Z" stroke-width="0.7"/>
<path d="M759.6999999999999 280.4V285.0" stroke-width="1.6" stroke="#444" stroke-dasharray="1.4 1.2"/>
<path d="M761.6999999999999 281.4H771.6L772.8000000000001 282.7L771.6 284.0H761.6999999999999" stroke-width="0.6"/>
<path d="M762.50 281.4L764.30 284.0 M764.90 281.4L766.70 284.0 M767.30 281.4L769.10 284.0 M769.70 281.4L771.50 284.0" stroke-width="0.6"/>
<path d="M725.6 290.2H736.1M725.6 292.8H736.1" stroke-width="0.6"/>
<path d="M726.10 290.2L727.90 292.8 M728.50 290.2L730.30 292.8 M730.90 290.2L732.70 292.8 M733.30 290.2L735.10 292.8" stroke-width="0.6"/>
<path d="M736.1 288.9H741.4V294.1H736.1Z" stroke-width="0.7"/>
<path d="M738.1 289.2V293.8" stroke-width="1.6" stroke="#444" stroke-dasharray="1.4 1.2"/>
<path d="M756.4 288.9H761.6999999999999V294.1H756.4Z" stroke-width="0.7"/>
<path d="M759.6999999999999 289.2V293.8" stroke-width="1.6" stroke="#444" stroke-dasharray="1.4 1.2"/>
<path d="M761.6999999999999 290.2H771.6L772.8000000000001 291.5L771.6 292.8H761.6999999999999" stroke-width="0.6"/>
<path d="M762.50 290.2L764.30 292.8 M764.90 290.2L766.70 292.8 M767.30 290.2L769.10 292.8 M769.70 290.2L771.50 292.8" stroke-width="0.6"/>
<path d="M1050.3 257.3H1072.7V249.3H1105.7V241.2H1144.7V248.2L1151.5 251.3V279.7M1050.3 257.3V294H1056.2V297.8H1144.7V294" stroke-width="0.8"/>
<path d="M1108.00 240.80L1142.50 240.80" stroke-width="1.6" stroke="#777"/>
<rect x="1050.30" y="262.50" width="22.40" height="22.50" stroke-width="0.8"/>
<path d="M1050.30 268.40L1066.50 268.40" stroke-width="0.6"/>
<path d="M1050.30 280.00L1066.50 280.00" stroke-width="0.6"/>
<path d="M1050.3 262.5Q1056.0 259.5 1066.0 260.5" stroke-width="0.6"/>
<circle cx="1067.70" cy="265.20" r="1.8" stroke-width="1.1" stroke="#222" fill="#888"/>
<circle cx="1067.70" cy="282.30" r="1.8" stroke-width="1.1" stroke="#222" fill="#888"/>
<rect x="1059.60" y="259.80" width="2.40" height="2.40" stroke-width="0.4" stroke="#222" fill="#222"/>
<circle cx="1059.20" cy="289.20" r="1.1" stroke-width="0.5"/>
<path d="M1072.80 261.00L1072.80 287.50" stroke-width="1.5" stroke="#444" stroke-dasharray="1.3 0.8"/>
<path d="M1073.5 269.8H1076.0Q1079.3 271 1079.6 273.4Q1079.3 276 1076.0 277.2H1073.5" stroke-width="0.8"/>
<rect x="1073.60" y="269.60" width="2.40" height="7.80" stroke-width="0.7" stroke="#333" fill="#999"/>
<path d="M1083.55 249.89999999999998L1084.75 248.7L1085.95 249.89999999999998M1083.55 249.89999999999998V258.9M1085.95 249.89999999999998V258.9" stroke-width="0.6"/>
<path d="M1083.55 249.90L1085.95 251.50 M1083.55 252.10L1085.95 253.70 M1083.55 254.30L1085.95 255.90 M1083.55 256.50L1085.95 258.10" stroke-width="0.5"/>
<path d="M1083.35 258.9L1082.15 262.9H1087.35L1086.15 258.9Z" stroke-width="0.7"/>
<path d="M1082.15 260.9H1087.35" stroke-width="0.5"/>
<path d="M1092.55 251.7L1093.75 250.5L1094.95 251.7M1092.55 251.7V260.7M1094.95 251.7V260.7" stroke-width="0.6"/>
<path d="M1092.55 251.70L1094.95 253.30 M1092.55 253.90L1094.95 255.50 M1092.55 256.10L1094.95 257.70 M1092.55 258.30L1094.95 259.90" stroke-width="0.5"/>
<path d="M1092.35 260.7L1091.15 264.7H1096.35L1095.15 260.7Z" stroke-width="0.7"/>
<path d="M1091.15 262.7H1096.35" stroke-width="0.5"/>
<rect x="1080.20" y="264.80" width="9.00" height="17.20" stroke-width="0.9" stroke="#444"/>
<rect x="1089.20" y="267.00" width="9.00" height="15.70" stroke-width="0.9" stroke="#444"/>
<path d="M1081.5 282V287H1083.5V297.5M1088.0 282V287H1086.0V297.5M1090.5 282.7V287.5H1092.5V297.5M1097.0 282.7V287.5H1095.0V297.5" stroke-width="0.7"/>
<path d="M1082.0 284.3H1087.5M1091.0 285H1096.5" stroke-width="1.4" stroke="#444" stroke-dasharray="1.5 1.5"/>
<circle cx="1089.20" cy="292.80" r="2.9" stroke-width="0.8"/>
<circle cx="1089.20" cy="292.80" r="1.5" stroke-width="0.6"/>
<use href="#hd" x="1102.50" y="256.2"/>
<use href="#hd" x="1102.50" y="265"/>
<use href="#hd" x="1102.50" y="273.9"/>
<use href="#hd" x="1102.50" y="282.7"/>
<use href="#hd" x="1102.50" y="291.5"/>
<use href="#hd" x="1120.00" y="273.9"/>
<use href="#hd" x="1128.75" y="273.9"/>
<use href="#hd" x="1137.60" y="273.9"/>
<use href="#hd" x="1146.50" y="273.9"/>
<use href="#hd" x="1146.50" y="256.2"/>
<use href="#hd" x="1146.50" y="265"/>
<circle cx="1124.80" cy="253.50" r="3.5" stroke-width="0.7"/>
<circle cx="1121.20" cy="264.00" r="3.5" stroke-width="0.7"/>
<circle cx="1110.80" cy="273.90" r="4" stroke-width="0.7"/>
<circle cx="1110.80" cy="273.90" r="2.5" stroke-width="1.2" stroke="#666" stroke-dasharray="1.3 1.3"/>
<circle cx="1134.60" cy="265.10" r="1.4" stroke-width="0" fill="#222"/>
<circle cx="1141.80" cy="249.60" r="1.2" stroke-width="0.5"/>
<rect x="1122.30" y="278.30" width="15.00" height="17.20" stroke-width="0.9" stroke="#444"/>
<path d="M1122.30 286.90L1137.30 286.90" stroke-width="0.7"/>
<path d="M1106.5 281.4H1117.0M1106.5 284.0H1117.0" stroke-width="0.6"/>
<path d="M1107.00 281.4L1108.80 284.0 M1109.40 281.4L1111.20 284.0 M1111.80 281.4L1113.60 284.0 M1114.20 281.4L1116.00 284.0" stroke-width="0.6"/>
<path d="M1117.0 280.09999999999997H1122.3V285.3H1117.0Z" stroke-width="0.7"/>
<path d="M1119.0 280.4V285.0" stroke-width="1.6" stroke="#444" stroke-dasharray="1.4 1.2"/>
<path d="M1137.3 280.09999999999997H1142.6V285.3H1137.3Z" stroke-width="0.7"/>
<path d="M1140.6 280.4V285.0" stroke-width="1.6" stroke="#444" stroke-dasharray="1.4 1.2"/>
<path d="M1142.6 281.4H1152.5L1153.7 282.7L1152.5 284.0H1142.6" stroke-width="0.6"/>
<path d="M1143.40 281.4L1145.20 284.0 M1145.80 281.4L1147.60 284.0 M1148.20 281.4L1150.00 284.0 M1150.60 281.4L1152.40 284.0" stroke-width="0.6"/>
<path d="M1106.5 290.2H1117.0M1106.5 292.8H1117.0" stroke-width="0.6"/>
<path d="M1107.00 290.2L1108.80 292.8 M1109.40 290.2L1111.20 292.8 M1111.80 290.2L1113.60 292.8 M1114.20 290.2L1116.00 292.8" stroke-width="0.6"/>
<path d="M1117.0 288.9H1122.3V294.1H1117.0Z" stroke-width="0.7"/>
<path d="M1119.0 289.2V293.8" stroke-width="1.6" stroke="#444" stroke-dasharray="1.4 1.2"/>
<path d="M1137.3 288.9H1142.6V294.1H1137.3Z" stroke-width="0.7"/>
<path d="M1140.6 289.2V293.8" stroke-width="1.6" stroke="#444" stroke-dasharray="1.4 1.2"/>
<path d="M1142.6 290.2H1152.5L1153.7 291.5L1152.5 292.8H1142.6" stroke-width="0.6"/>
<path d="M1143.40 290.2L1145.20 292.8 M1145.80 290.2L1147.60 292.8 M1148.20 290.2L1150.00 292.8 M1150.60 290.2L1152.40 292.8" stroke-width="0.6"/>
</g></svg>
</body></html>
